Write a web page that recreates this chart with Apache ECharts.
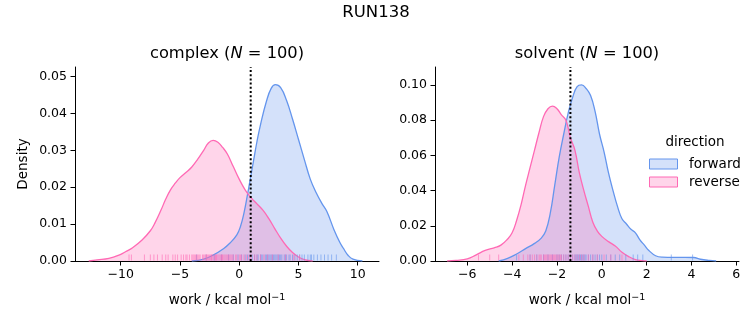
<!DOCTYPE html>
<html><head><meta charset="utf-8">
<script src="https://cdn.jsdelivr.net/npm/echarts@6/dist/echarts.min.js"></script>
<style>html,body{margin:0;padding:0;background:#fff}#c{width:753px;height:325px}</style>
</head><body><div id="c"></div>
<script>
// ---- data ----
const complexReverseX = [-12.7,-12,-11,-10,-9.6,-9,-8.2,-7.5,-7.1,-6.6,-6.2,-5.8,-5.4,-5,-4.5,-4,-3.5,-3,-2.6,-2.2,-1.8,-1.4,-1,-0.5,0,0.5,1,1.5,2,2.5,3,3.5,4,4.5,5,5.5,6.2];
const complexReverseY = [0,0.0003,0.0007,0.0018,0.0025,0.0036,0.0057,0.0082,0.0104,0.0138,0.0168,0.0193,0.0211,0.0226,0.024,0.0255,0.0276,0.03,0.032,0.0327,0.0322,0.0308,0.029,0.0256,0.0222,0.0193,0.0172,0.0155,0.0138,0.0115,0.0088,0.0062,0.004,0.0023,0.0011,0.0004,0];
const complexForwardX = [-4,-3,-2.2,-1.3,-0.8,-0.2,0.1,0.4,0.7,0.9,1.2,1.5,1.8,2.3,2.7,3.05,3.5,4,4.5,5,5.5,6,6.5,7,7.4,8,8.5,8.8,9.2,9.6,10.4];
const complexForwardY = [0,0.0005,0.0016,0.0034,0.0048,0.0071,0.0093,0.013,0.018,0.0216,0.027,0.0324,0.037,0.0433,0.0468,0.0478,0.047,0.0435,0.0385,0.033,0.0275,0.0222,0.0185,0.0155,0.0134,0.0085,0.005,0.0034,0.0015,0.0005,0];
const solventReverseX = [-6.9,-6.5,-6,-5.6,-5.2,-4.8,-4.5,-4.2,-4,-3.8,-3.6,-3.4,-3.2,-3,-2.8,-2.6,-2.4,-2.2,-2,-1.8,-1.6,-1.4,-1.2,-1,-0.8,-0.6,-0.4,-0.2,0,0.3,0.6,0.9,1.2,1.5,1.8,2];
const solventReverseY = [0,0.0003,0.0012,0.0035,0.006,0.0075,0.009,0.0125,0.016,0.023,0.032,0.043,0.053,0.063,0.073,0.082,0.0865,0.088,0.0865,0.083,0.08,0.07,0.063,0.05,0.04,0.031,0.022,0.017,0.014,0.011,0.0085,0.005,0.0025,0.0008,0.0002,0];
const solventForwardX = [-4.6,-4.2,-3.8,-3.4,-3,-2.7,-2.5,-2.3,-2.1,-1.9,-1.7,-1.5,-1.3,-1.1,-0.9,-0.7,-0.5,-0.3,-0.1,0.1,0.3,0.5,0.7,0.9,1.1,1.3,1.5,1.7,1.9,2.1,2.4,2.7,3.2,3.7,4.1,4.4,4.8,5.1];
const solventForwardY = [0,0.0015,0.004,0.007,0.01,0.013,0.017,0.027,0.043,0.059,0.072,0.084,0.093,0.099,0.1,0.098,0.094,0.085,0.072,0.062,0.05,0.04,0.031,0.024,0.021,0.018,0.016,0.012,0.009,0.006,0.003,0.0022,0.0021,0.0021,0.002,0.001,0.0003,0];
const complexReverseRug = [-9.3,-9.1,-8.0,-7.5,-7.2,-6.9,-6.5,-6.2,-6.0,-5.6,-5.4,-5.2,-4.9,-4.7,-4.5,-4.4,-4.2,-4.0,-3.9,-3.8,-3.7,-3.6,-3.5,-3.4,-3.3,-3.1,-3.0,-2.9,-2.8,-2.75,-2.7,-2.6,-2.5,-2.4,-2.35,-2.3,-2.2,-2.1,-2.0,-1.95,-1.9,-1.8,-1.7,-1.6,-1.5,-1.45,-1.4,-1.3,-1.2,-1.1,-1.0,-0.9,-0.8,-0.7,-0.6,-0.5,-0.3,-0.2,0.0,0.1,0.2,0.4,0.6,0.8,1.0,1.3,1.5,1.8,2.1,2.4,2.8,3.3,3.9,4.6,5.1];
const complexForwardRug = [-3.6,-2.8,-2.1,-1.5,-0.9,-0.5,-0.1,0.2,0.5,0.7,0.9,1.1,1.3,1.5,1.6,1.8,1.9,2.0,2.2,2.3,2.4,2.5,2.6,2.7,2.8,2.9,3.0,3.1,3.2,3.3,3.4,3.5,3.6,3.8,3.9,4.0,4.2,4.3,4.5,4.7,4.9,5.1,5.3,5.5,5.8,6.0,6.1,6.3,6.6,6.9,7.2,7.5,7.8,8.2];
const solventReverseRug = [-5.5,-5.0,-4.6,-3.7,-3.5,-3.3,-3.2,-3.1,-3.0,-2.9,-2.8,-2.75,-2.7,-2.6,-2.55,-2.5,-2.45,-2.4,-2.35,-2.3,-2.25,-2.2,-2.15,-2.1,-2.05,-2.0,-1.95,-1.9,-1.85,-1.8,-1.7,-1.6,-1.5,-1.4,-1.3,-1.2,-1.1,-1.0,-0.9,-0.8,-0.6,-0.4,-0.2,0.1,0.4,0.9];
const solventForwardRug = [-3.8,-3.2,-2.9,-2.6,-2.4,-2.2,-2.0,-1.9,-1.8,-1.7,-1.6,-1.5,-1.4,-1.3,-1.2,-1.15,-1.1,-1.05,-1.0,-0.95,-0.9,-0.85,-0.8,-0.75,-0.7,-0.6,-0.5,-0.4,-0.3,-0.2,-0.1,0.0,0.2,0.4,0.6,0.8,1.07,1.4,1.6,1.83,3.1,4.05];
const refLines = [0.97, -1.4];
const xTicks = [[-10,-5,0,5,10],[-6,-4,-2,0,2,4,6]];
const yTicks = [[0,0.01,0.02,0.03,0.04,0.05],[0,0.02,0.04,0.06,0.08,0.10]];
const xRanges = [[-13.86,11.8],[-7.44,6.12]];
const yMaxes = [0.0526,0.1102];
const panelNames = ['complex','solvent'];
const nCounts = [100,100];

// ---- styling ----
const BLUE = '#6495ED', PINK = '#FF69B4';
const FILL_B = 'rgba(100,149,237,0.28)', FILL_P = 'rgba(255,105,180,0.28)';
const FONT = 'DejaVu Sans';
const grids = [{left:75,right:374,top:67,bottom:64},{left:435,right:14,top:67,bottom:64}];

function zip(xs,ys){return xs.map((x,i)=>[x,ys[i]]);}
function kde(name,xs,ys,idx,color,fill){
  return {type:'line',name:name,xAxisIndex:idx,yAxisIndex:idx,data:zip(xs,ys),smooth:0.45,
    symbol:'none',lineStyle:{color:color,width:1.3},itemStyle:{color:color},areaStyle:{color:fill,opacity:1,origin:'start'},z:2,silent:true};
}
function rug(name,xs,idx,color){
  return {type:'scatter',name:name,xAxisIndex:idx,yAxisIndex:idx,data:xs.map(x=>[x,0]),symbol:'rect',
    symbolSize:[1,6],symbolOffset:[0,-3.5],itemStyle:{color:color,opacity:0.6},z:3,silent:true};
}
function vline(idx){
  return {type:'line',xAxisIndex:idx,yAxisIndex:idx,data:[[refLines[idx],0],[refLines[idx],yMaxes[idx]]],
    symbol:'none',lineStyle:{color:'#000',width:2,type:[2,2.2]},z:4,silent:true};
}
const xAxes = [0,1].map(i=>({type:'value',gridIndex:i,min:xRanges[i][0],max:xRanges[i][1],
  splitLine:{show:false},
  axisLine:{onZero:false,lineStyle:{color:'#000',width:1}},
  axisTick:{customValues:xTicks[i],length:4.5,lineStyle:{color:'#000',width:1}},
  axisLabel:{customValues:xTicks[i],color:'#000',fontFamily:FONT,fontSize:12.5,margin:7,
    formatter:v=>(v<0?'\u2212'+Math.abs(v):String(v))},
  name:'work / kcal mol{s|\u22121}',nameLocation:'middle',nameGap:32,
  nameTextStyle:{color:'#000',fontFamily:FONT,fontSize:13.5,
    rich:{s:{fontFamily:FONT,fontSize:9.5,verticalAlign:'top',color:'#000'}}}}));
const yAxes = [0,1].map(i=>({type:'value',gridIndex:i,min:0,max:yMaxes[i],position:'left',
  splitLine:{show:false},
  axisLine:{show:true,onZero:false,lineStyle:{color:'#000',width:1}},
  axisTick:{show:true,customValues:yTicks[i],length:4.5,lineStyle:{color:'#000',width:1}},
  axisLabel:{customValues:yTicks[i],color:'#000',fontFamily:FONT,fontSize:12.5,margin:8,formatter:v=>v.toFixed(2)},
  name:i===0?'Density':'',nameLocation:'middle',nameGap:45,
  nameTextStyle:{color:'#000',fontFamily:FONT,fontSize:13.5}}));

const series = [
  kde('forward',complexForwardX,complexForwardY,0,BLUE,FILL_B),
  kde('reverse',complexReverseX,complexReverseY,0,PINK,FILL_P),
  rug('forward',complexForwardRug,0,BLUE),
  rug('reverse',complexReverseRug,0,PINK),
  vline(0),
  kde('forward',solventForwardX,solventForwardY,1,BLUE,FILL_B),
  kde('reverse',solventReverseX,solventReverseY,1,PINK,FILL_P),
  rug('forward',solventForwardRug,1,BLUE),
  rug('reverse',solventReverseRug,1,PINK),
  vline(1)
];

function titleText(i,cx){
  return {type:'text',x:cx,y:54,style:{text:panelNames[i]+' ({n|N} = '+nCounts[i]+')',
    rich:{n:{fontStyle:'italic',fontFamily:FONT,fontSize:16.3,fill:'#000'}},
    fontFamily:FONT,fontSize:16.3,fill:'#000',align:'center',verticalAlign:'middle'}};
}

const chart = echarts.init(document.getElementById('c'),null,{renderer:'canvas'});
chart.setOption({
  animation:false,
  backgroundColor:'#fff',
  grid:grids,
  xAxis:xAxes,
  yAxis:yAxes,
  legend:{left:644,top:152,orient:'vertical',itemWidth:28,itemHeight:10,itemGap:4,
    selectedMode:false,
    textStyle:{color:'#000',fontFamily:FONT,fontSize:13.5,padding:[0,0,0,6.5]},
    data:[
      {name:'forward',icon:'rect',itemStyle:{color:FILL_B,borderColor:BLUE,borderWidth:1}},
      {name:'reverse',icon:'rect',itemStyle:{color:FILL_P,borderColor:PINK,borderWidth:1}}
    ]},
  graphic:[
    {type:'text',x:376,y:13,style:{text:'RUN138',fontFamily:FONT,fontSize:16.5,fill:'#000',align:'center',verticalAlign:'middle'}},
    titleText(0,227),
    titleText(1,587),
    {type:'text',x:695,y:142,style:{text:'direction',fontFamily:FONT,fontSize:13.5,fill:'#000',align:'center',verticalAlign:'middle'}}
  ],
  series:series
});
</script></body></html>
